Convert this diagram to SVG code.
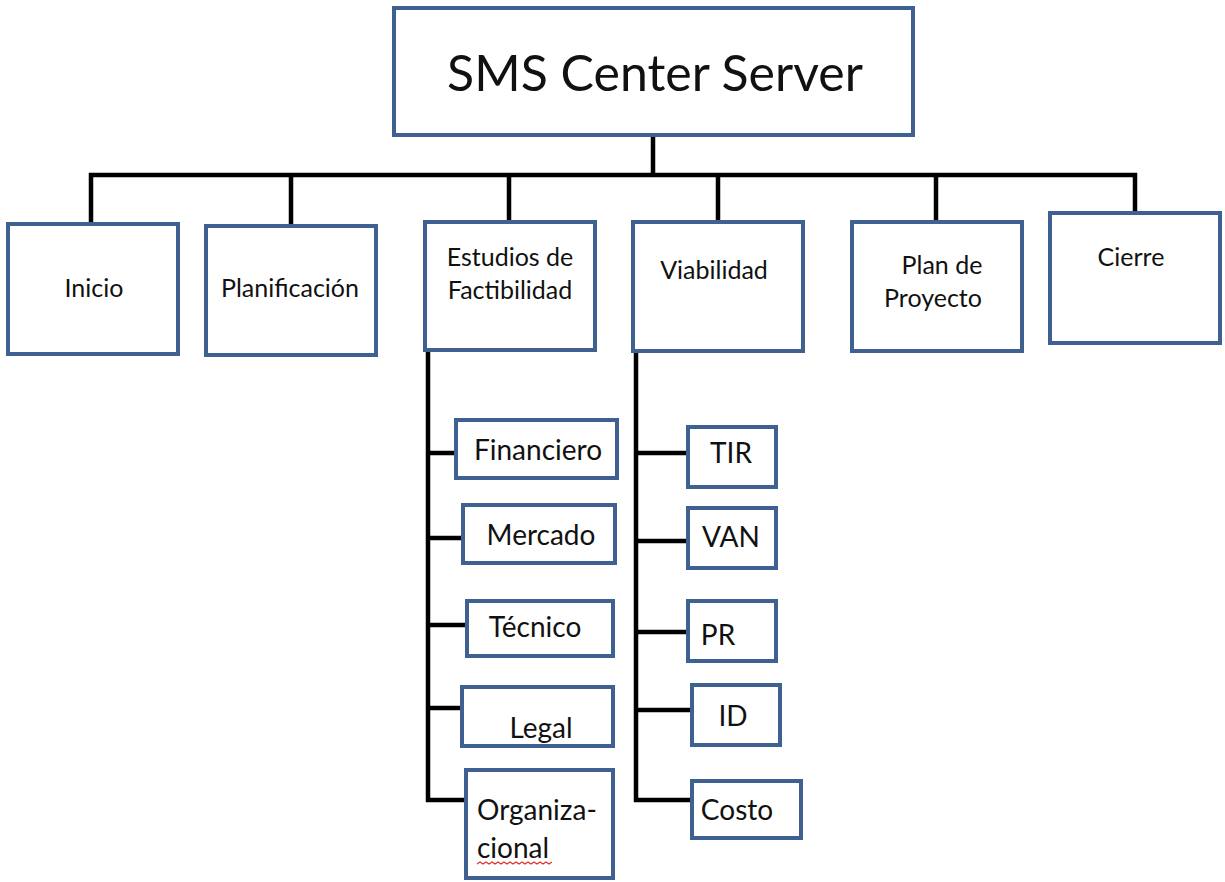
<svg xmlns="http://www.w3.org/2000/svg" width="1225" height="882" viewBox="0 0 1225 882">
<style>
.box{fill:#ffffff;stroke:#3F6192;stroke-width:4;}
.ln{stroke:#000;stroke-width:4.5;fill:none;stroke-linecap:square;}
.t{font-family:Lato,"Liberation Sans",sans-serif;fill:#111;}
.l1{font-size:25px;}
.l2{font-size:28px;}
.c{text-anchor:middle;}
</style>
<rect width="1225" height="882" fill="#fff"/>
<g id="connectors">
<path class="ln" d="M653 135 V175 M91 175 H1135 M91 175 V224 M291 175 V226 M509 175 V222 M718 175 V222 M936 175 V222 M1135 175 V213"/>
<path class="ln" d="M428 350 V800 H466 M428 453 H456 M428 538 H463 M428 625 H467 M428 708 H462"/>
<path class="ln" d="M636 351 V800 H692 M636 453 H688 M636 541 H688 M636 632 H688 M636 710 H692"/>
</g>
<g id="root"><rect class="box" x="394" y="8" width="519" height="127"/><text class="t c" x="655" y="91" font-size="50">SMS Center Server</text></g>
<g id="inicio"><rect class="box" x="8" y="224" width="170" height="130"/><text class="t c l1" x="94" y="297">Inicio</text></g>
<g id="planificacion"><rect class="box" x="206" y="226" width="170" height="129"/><text class="t c l1" x="290" y="297">Planificación</text></g>
<g id="estudios"><rect class="box" x="425" y="222" width="170" height="128"/><text class="t c l1" x="510" y="266">Estudios de</text><text class="t c l1" x="510" y="299">Factibilidad</text></g>
<g id="viabilidad"><rect class="box" x="633" y="222" width="170" height="129"/><text class="t c l1" x="714" y="279">Viabilidad</text></g>
<g id="plan"><rect class="box" x="852" y="222" width="170" height="129"/><text class="t c l1" x="942" y="274">Plan de</text><text class="t c l1" x="933" y="307">Proyecto</text></g>
<g id="cierre"><rect class="box" x="1050" y="213" width="170" height="130"/><text class="t c l1" x="1131" y="266">Cierre</text></g>
<g id="financiero"><rect class="box" x="456" y="420" width="161" height="58"/><text class="t c l2" x="538" y="460">Financiero</text></g>
<g id="mercado"><rect class="box" x="463" y="505" width="152" height="58"/><text class="t c l2" x="541" y="545">Mercado</text></g>
<g id="tecnico"><rect class="box" x="467" y="601" width="146" height="55"/><text class="t c l2" x="535" y="637">Técnico</text></g>
<g id="legal"><rect class="box" x="462" y="687" width="151" height="59"/><text class="t c l2" x="541" y="738">Legal</text></g>
<g id="organizacional"><rect class="box" x="466" y="770" width="147" height="108"/><text class="t l2" x="477" y="820">Organiza-</text><text class="t l2" x="477" y="858">cional</text><path d="M477 864 l3 -2 l3 2 l3 -2 l3 2 l3 -2 l3 2 l3 -2 l3 2 l3 -2 l3 2 l3 -2 l3 2 l3 -2 l3 2 l3 -2 l3 2 l3 -2 l3 2 l3 -2 l3 2 l3 -2 l3 2 l3 -2 l3 2 l3 -2" fill="none" stroke="#E03030" stroke-width="1.2"/></g>
<g id="tir"><rect class="box" x="688" y="427" width="88" height="60"/><text class="t c l2" x="731" y="463">TIR</text></g>
<g id="van"><rect class="box" x="688" y="508" width="88" height="60"/><text class="t c l2" x="731" y="547">VAN</text></g>
<g id="pr"><rect class="box" x="688" y="601" width="88" height="60"/><text class="t c l2" x="718" y="645">PR</text></g>
<g id="id"><rect class="box" x="692" y="685" width="88" height="60"/><text class="t c l2" x="733" y="726">ID</text></g>
<g id="costo"><rect class="box" x="692" y="781" width="109" height="57"/><text class="t c l2" x="737" y="820">Costo</text></g>
</svg>
